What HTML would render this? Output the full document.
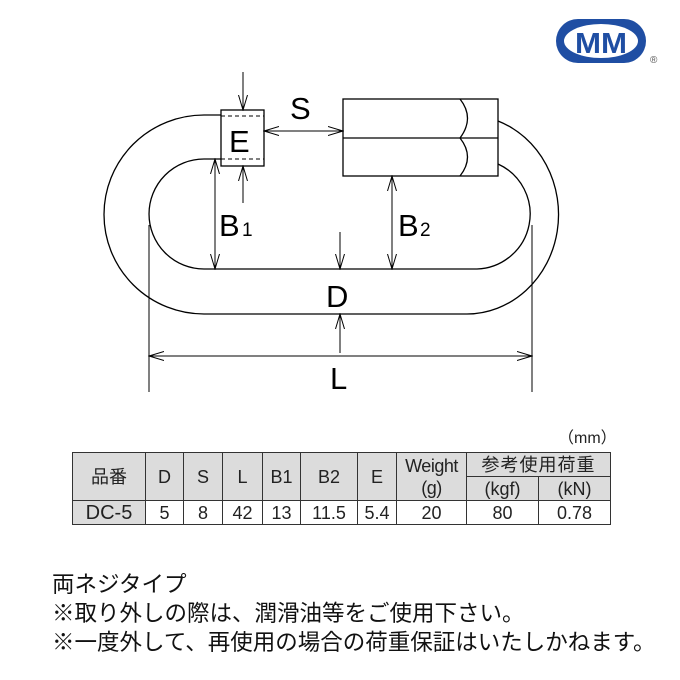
<!DOCTYPE html>
<html><head><meta charset="utf-8"><style>
body{margin:0;width:680px;height:680px;background:#fff;position:relative;overflow:hidden;font-family:"Liberation Sans","Noto Sans CJK JP",sans-serif}
table{position:absolute;left:72px;top:452px;border-collapse:collapse;color:#222}
td{border:1px solid #333;text-align:center;padding:0;height:23px;font-size:18px;line-height:22px}
.h{background:#dcdcdc}
.t{position:absolute;left:52px;font-size:22.5px;color:#111;white-space:nowrap;line-height:29px}
</style></head><body>
<svg width="680" height="680" style="position:absolute;left:0;top:0" font-family="Liberation Sans, sans-serif">
<defs><marker id="a" markerWidth="16" markerHeight="10" refX="15" refY="5" orient="auto" markerUnits="userSpaceOnUse"><path d="M0,0.5 L15,5 L0,9.5" fill="none" stroke="#000" stroke-width="1"/></marker></defs>
<g fill="none" stroke="#000" stroke-width="1.3">
<path d="M221,115 L204,115 A100,99.5 0 0 0 204,314 L467,314 A92,99.5 0 0 0 498,121"/>
<path d="M221,159 L204,159 A55,55 0 0 0 204,269 L477,269 A55,55 0 0 0 498,164"/>
<rect x="221" y="110" width="43" height="56"/>
<path d="M221,116 H264 M221,159 H264" stroke-dasharray="4,3" stroke-width="1"/>
<rect x="343" y="99" width="155" height="77"/>
<path d="M343,138 H498 M460,99 Q475,118 460,138 Q475,157 460,176"/>
<g stroke-width="1" marker-end="url(#a)">
<path d="M302,131 H264"/><path d="M302,131 H343"/>
<path d="M243,72 V110"/><path d="M243,203 V166"/>
<path d="M215,214 V159"/><path d="M215,214 V269"/>
<path d="M392,222 V176"/><path d="M392,222 V269"/>
<path d="M340,232 V269"/><path d="M340,353 V314"/>
<path d="M340,356 H149"/><path d="M340,356 H532"/>
</g>
<path d="M149,225 V392 M532,225 V392" stroke-width="1"/>
</g>
<g font-size="31" fill="#000">
<text x="229" y="152">E</text>
<text x="290" y="119">S</text>
<text x="219" y="236">B</text><text x="242" y="236" font-size="19">1</text>
<text x="398" y="236">B</text><text x="420" y="236" font-size="19">2</text>
<text x="326" y="307">D</text>
<text x="330" y="389">L</text>
</g>
<rect x="556" y="19" width="90" height="44" rx="22" fill="#1f4ea3"/>
<ellipse cx="601" cy="41" rx="37" ry="17" fill="#fff"/>
<text x="601" y="53" font-size="29" font-weight="bold" fill="#1f4ea3" text-anchor="middle" textLength="52" lengthAdjust="spacingAndGlyphs">MM</text>
<text x="650" y="63" font-size="10" fill="#555">®</text>
<text x="558" y="443" font-size="16" fill="#222">（mm）</text>
</svg>
<table>
<tr><td class="h" rowspan="2" style="width:72px">品番</td><td class="h" rowspan="2" style="width:37px">D</td><td class="h" rowspan="2" style="width:38px">S</td><td class="h" rowspan="2" style="width:39px">L</td><td class="h" rowspan="2" style="width:37px">B1</td><td class="h" rowspan="2" style="width:56px">B2</td><td class="h" rowspan="2" style="width:38px">E</td><td class="h" rowspan="2" style="width:69px;letter-spacing:-0.5px">Weight<br>(g)</td><td class="h" colspan="2" style="font-size:18px;letter-spacing:1px">参考使用荷重</td></tr>
<tr><td class="h" style="width:71px">(kgf)</td><td class="h" style="width:71px">(kN)</td></tr>
<tr><td class="h" style="font-size:20px">DC-5</td><td>5</td><td>8</td><td>42</td><td>13</td><td>11.5</td><td>5.4</td><td>20</td><td>80</td><td>0.78</td></tr>
</table>
<div class="t" style="top:570px">両ネジタイプ</div>
<div class="t" style="top:599px">※取り外しの際は、潤滑油等をご使用下さい。</div>
<div class="t" style="top:628px">※一度外して、再使用の場合の荷重保証はいたしかねます。</div>
</body></html>
